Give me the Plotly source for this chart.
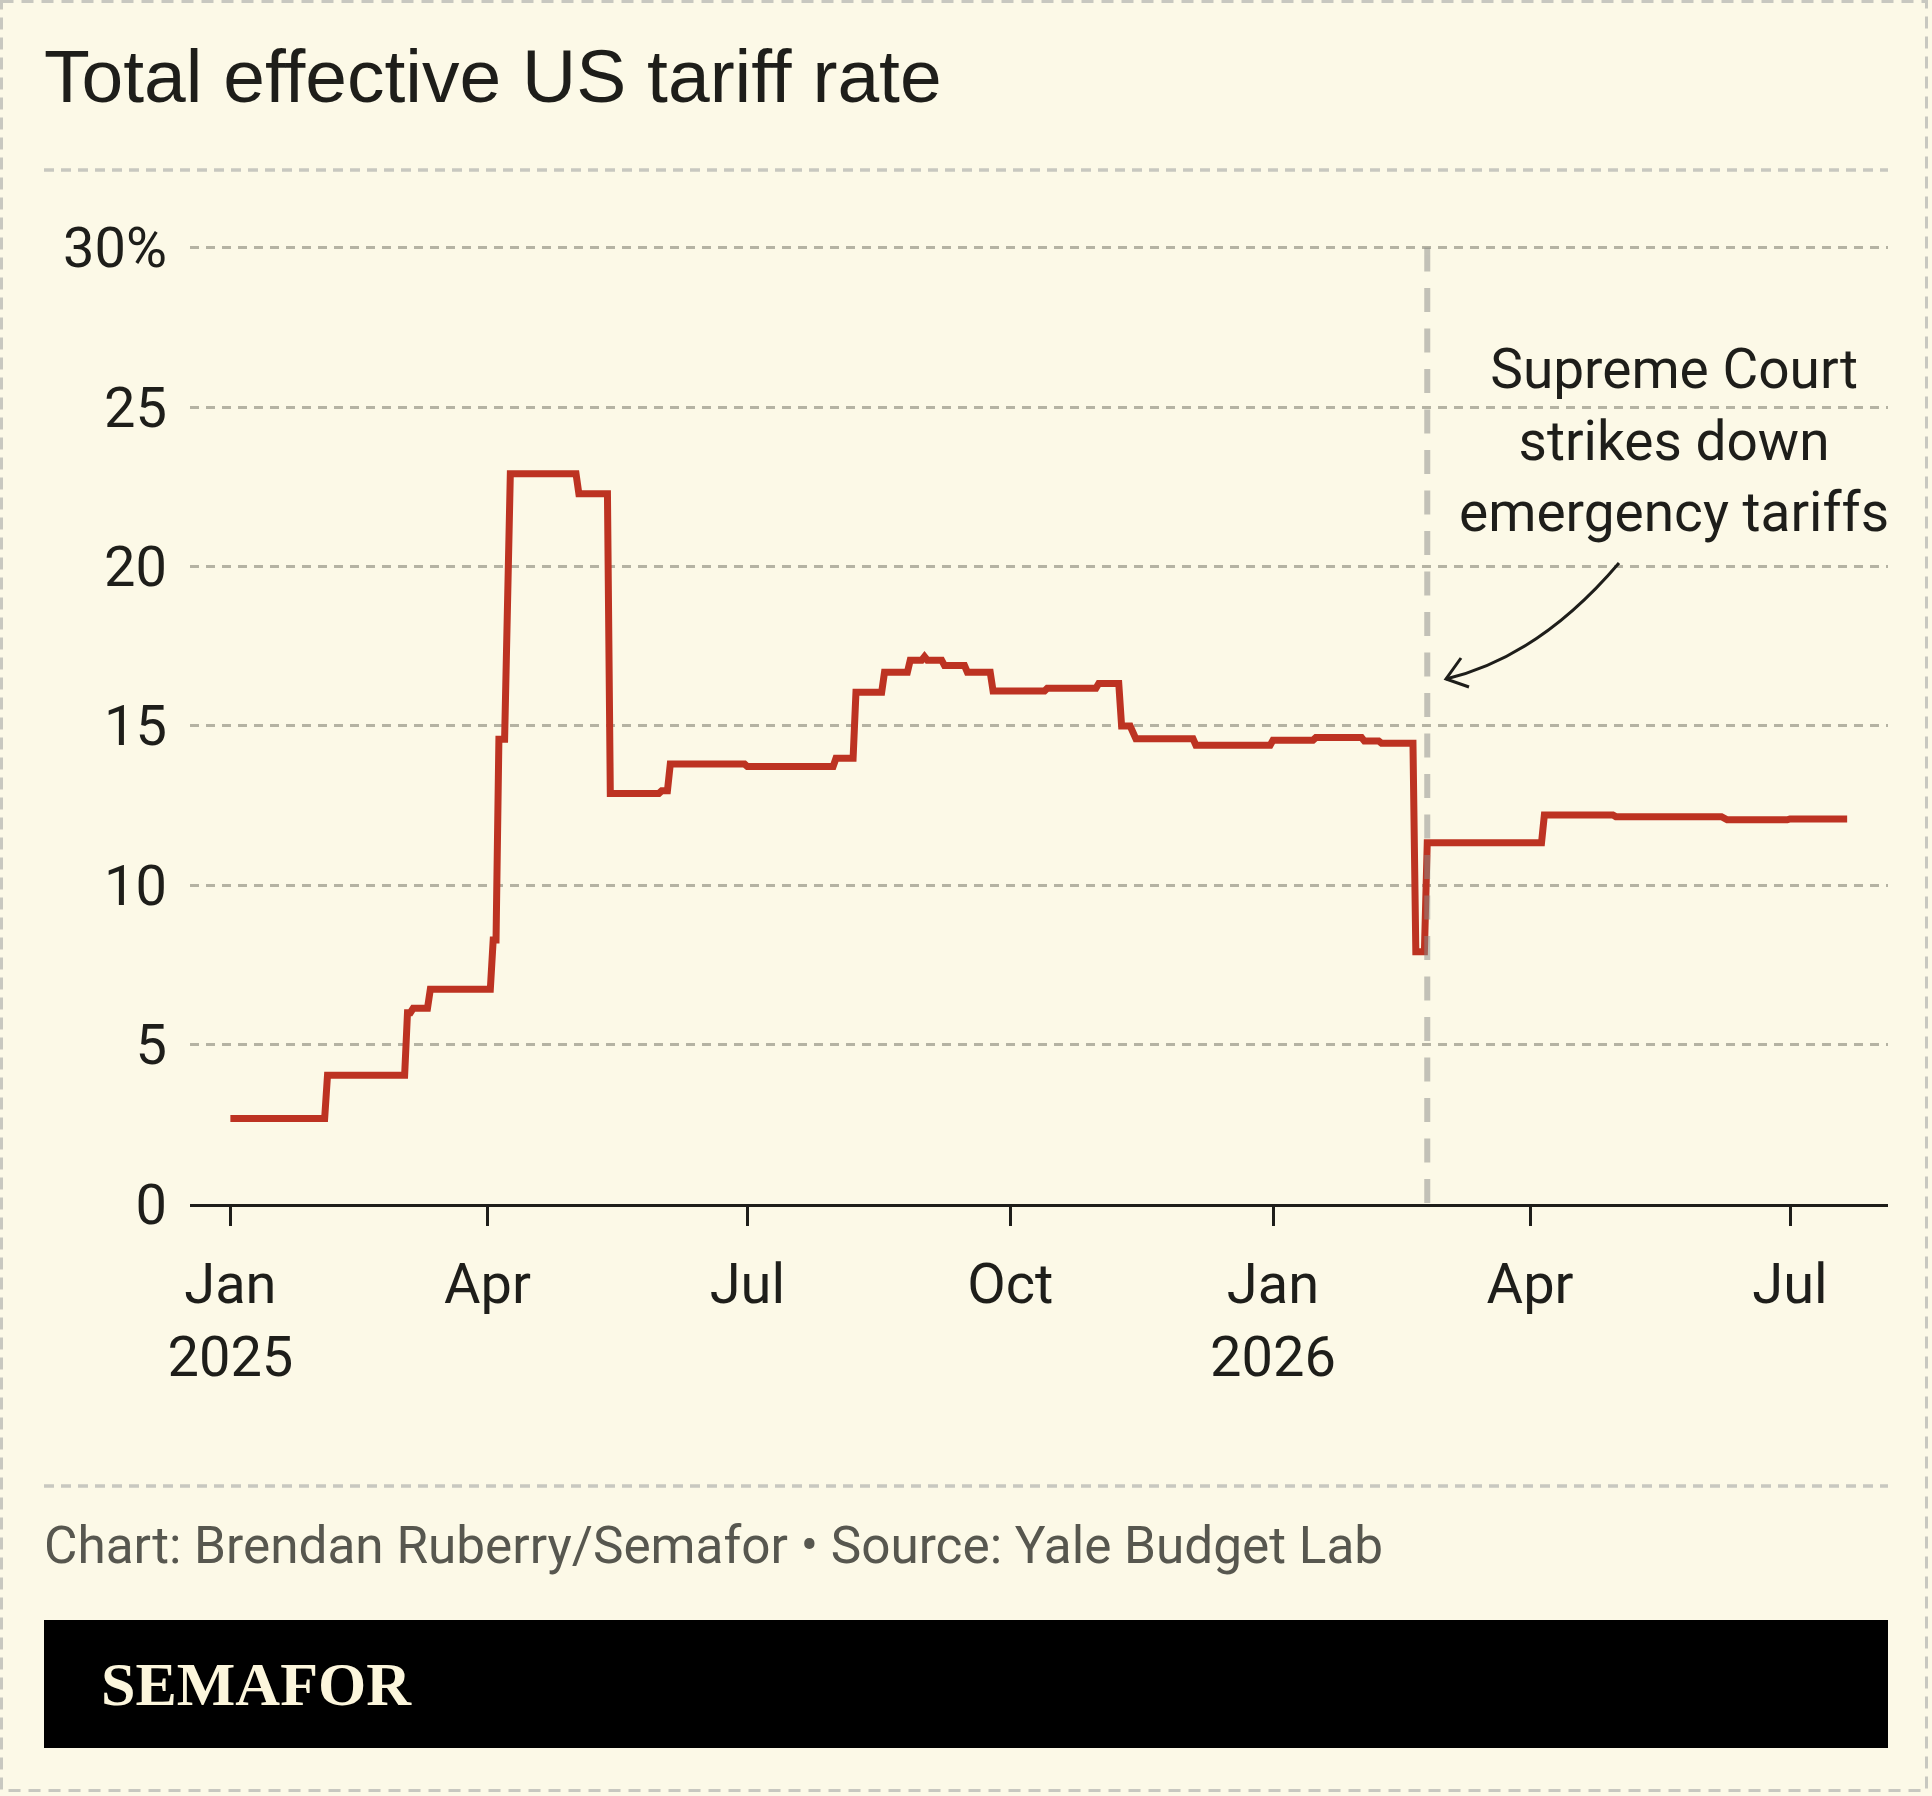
import plotly.graph_objects as go

W, H = 1932, 1796

# ---------------- data ----------------
dates = [
    "2025-01-01", "2025-02-03", "2025-02-04", "2025-03-03", "2025-03-04",
    "2025-03-05", "2025-03-06", "2025-03-11", "2025-03-12", "2025-04-02",
    "2025-04-03", "2025-04-04", "2025-04-05", "2025-04-07", "2025-04-09",
    "2025-05-02", "2025-05-03", "2025-05-13", "2025-05-14", "2025-05-31",
    "2025-06-01", "2025-06-03", "2025-06-04", "2025-06-30", "2025-07-01",
    "2025-07-31", "2025-08-01", "2025-08-07", "2025-08-08", "2025-08-17",
    "2025-08-18", "2025-08-26", "2025-08-27", "2025-08-31", "2025-09-01",
    "2025-09-02", "2025-09-07", "2025-09-08", "2025-09-15", "2025-09-16",
    "2025-09-24", "2025-09-25", "2025-10-13", "2025-10-14", "2025-10-31",
    "2025-11-01", "2025-11-08", "2025-11-09", "2025-11-12", "2025-11-14",
    "2025-12-04", "2025-12-05", "2025-12-31", "2026-01-01", "2026-01-15",
    "2026-01-16", "2026-02-01", "2026-02-02", "2026-02-07", "2026-02-08",
    "2026-02-19", "2026-02-20", "2026-02-23", "2026-02-24", "2026-04-05",
    "2026-04-06", "2026-04-30", "2026-05-01", "2026-06-07", "2026-06-09",
    "2026-06-30", "2026-07-01", "2026-07-21",
]
rates = [
    2.68, 2.68, 4.04, 4.04, 6.00,
    6.00, 6.14, 6.14, 6.74, 6.74,
    8.28, 8.28, 14.58, 14.58, 22.91,
    22.91, 22.28, 22.28, 12.88, 12.88,
    12.96, 12.96, 13.80, 13.80, 13.72,
    13.72, 13.98, 13.98, 16.05, 16.05,
    16.68, 16.68, 17.06, 17.06, 17.17,
    17.06, 17.06, 16.89, 16.89, 16.68,
    16.68, 16.09, 16.09, 16.18, 16.18,
    16.33, 16.33, 14.99, 14.99, 14.59,
    14.59, 14.39, 14.39, 14.55, 14.55,
    14.63, 14.63, 14.52, 14.52, 14.45,
    14.45, 7.91, 7.91, 11.33, 11.33,
    12.20, 12.20, 12.15, 12.15, 12.05,
    12.05, 12.08, 12.08,
]

x_tickvals = ["2025-01-01", "2025-04-01", "2025-07-01", "2025-10-01",
              "2026-01-01", "2026-04-01", "2026-07-01"]
x_ticktext = ["Jan<br>2025", "Apr", "Jul", "Oct", "Jan<br>2026", "Apr", "Jul"]
y_tickvals = [0, 5, 10, 15, 20, 25, 30]
y_ticktext = ["0", "5", "10", "15", "20", "25", "30%"]

ruling_date = "2026-02-24"

title_text = "Total effective US tariff rate"
note_lines = ["Supreme Court", "strikes down", "emergency tariffs"]
source_text = "Chart: Brendan Ruberry/Semafor • Source: Yale Budget Lab"
brand_text = "SEMAFOR"

# ---------------- styling ----------------
BG = "#fcf9e7"
INK = "#1e1e1a"
RED = "#bd3322"
GRID = "#b5b3a3"
RULE = "#c8c8c0"
SANS = "Roboto, Arial, sans-serif"

PLOT_L, PLOT_R, PLOT_T, PLOT_B = 190, 1888, 247.6, 1204
Y_MAX = 30.1   # tiny headroom so the 30% gridline is drawn
PX_PER_PCT = (PLOT_B - PLOT_T) / 30.0
PLOT_T_EXT = PLOT_B - Y_MAX * PX_PER_PCT


def fx(x):
    return x / W


def fy(y):
    return 1 - y / H


fig = go.Figure()
fig.add_trace(go.Scatter(
    x=dates, y=rates, mode="lines",
    line=dict(color=RED, width=7),
    hoverinfo="skip", showlegend=False,
))

fig.update_layout(
    template="none",
    width=W, height=H,
    autosize=False,
    margin=dict(l=0, r=0, t=0, b=0, pad=0, autoexpand=False),
    paper_bgcolor=BG, plot_bgcolor=BG,
    showlegend=False,
    xaxis=dict(
        domain=[fx(PLOT_L), fx(PLOT_R)],
        type="date",
        range=["2024-12-17 20:38", "2026-08-04 07:12"],
        tickmode="array", tickvals=x_tickvals, ticktext=x_ticktext,
        ticks="outside", ticklen=19, tickwidth=3, tickcolor=INK,
        showline=True, linecolor=INK, linewidth=3,
        showgrid=False, zeroline=False,
        tickfont=dict(family=SANS, size=56, color=INK),
        ticklabelstandoff=10,
        automargin=False,
        fixedrange=True,
    ),
    yaxis=dict(
        domain=[fy(PLOT_B), fy(PLOT_T_EXT)],
        range=[0, Y_MAX],
        tickmode="array", tickvals=y_tickvals, ticktext=y_ticktext,
        ticks="", showline=False,
        showgrid=True, gridcolor=GRID, gridwidth=3, griddash="9px,7px",
        zeroline=False,
        tickfont=dict(family=SANS, size=56, color=INK),
        ticklabelstandoff=22,
        automargin=False,
        fixedrange=True,
    ),
)

shapes = [
    # outer dashed border
    dict(type="rect", xref="paper", yref="paper",
         x0=fx(1.5), x1=fx(1926.5), y0=fy(1.5), y1=fy(1790.5),
         line=dict(color=RULE, width=3, dash="12px,8px"), layer="below"),
    # title separator
    dict(type="line", xref="paper", yref="paper",
         x0=fx(44), x1=fx(1888), y0=fy(170), y1=fy(170),
         line=dict(color=RULE, width=3.5, dash="10px,7px")),
    # footer separator
    dict(type="line", xref="paper", yref="paper",
         x0=fx(44), x1=fx(1888), y0=fy(1486), y1=fy(1486),
         line=dict(color=RULE, width=3.5, dash="10px,7px")),
    # black banner
    dict(type="rect", xref="paper", yref="paper",
         x0=fx(44), x1=fx(1888), y0=fy(1748), y1=fy(1620),
         fillcolor="#000000", line=dict(width=0)),
    # ruling date vertical line
    dict(type="line", xref="x", yref="y",
         x0=ruling_date, x1=ruling_date, y0=30, y1=0,
         line=dict(color="#8a8b88", width=6, dash="24px,16.5px"),
         opacity=0.5, layer="above"),
    # curved annotation arrow
    dict(type="path", xref="paper", yref="paper",
         path=(f"M {fx(1619)},{fy(563)} Q {fx(1539)},{fy(657)} "
               f"{fx(1446)},{fy(679)}"),
         line=dict(color=INK, width=3)),
    dict(type="path", xref="paper", yref="paper",
         path=(f"M {fx(1461)},{fy(658)} L {fx(1446)},{fy(679)} "
               f"L {fx(1469)},{fy(687)}"),
         line=dict(color=INK, width=3)),
]
fig.update_layout(shapes=shapes)

annotations = [
    dict(text=title_text, xref="paper", yref="paper",
         x=fx(42), y=fy(76), xanchor="left", yanchor="middle",
         showarrow=False,
         font=dict(family="Liberation Sans, Arial, sans-serif", size=75, color=INK)),
    dict(text="<br>".join(note_lines), xref="paper", yref="paper",
         x=fx(1674), y=fy(441), xanchor="center", yanchor="middle",
         align="center", showarrow=False,
         font=dict(family=SANS, size=55, color=INK)),
    dict(text=source_text, xref="paper", yref="paper",
         x=fx(42), y=fy(1545), xanchor="left", yanchor="middle",
         showarrow=False,
         font=dict(family=SANS, size=51.3, color="#57574f")),
    dict(text=brand_text, xref="paper", yref="paper",
         x=fx(99), y=fy(1684), xanchor="left", yanchor="middle",
         showarrow=False,
         font=dict(family="Liberation Serif, Times New Roman, serif", size=62,
                   color="#fcf6dc", weight="bold")),
]
fig.update_layout(annotations=annotations)

fig.write_html("out.html")
